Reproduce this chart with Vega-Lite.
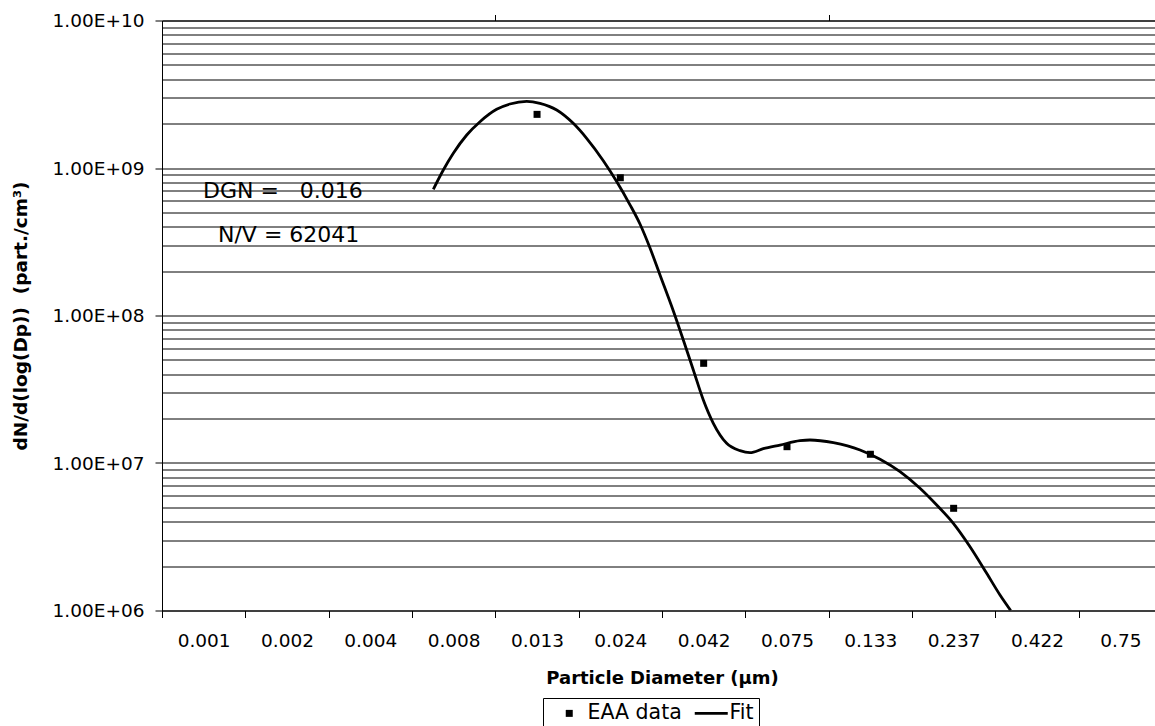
{
  "$schema": "https://vega.github.io/schema/vega-lite/v6.json",
  "width": 993,
  "height": 590,
  "autosize": {"type": "none"},
  "padding": {"left": 162, "top": 20.5, "right": 0, "bottom": 115.5},
  "background": "white",
  "config": {
    "view": {"stroke": null},
    "font": "DejaVu Sans",
    "axis": {
      "domainColor": "black",
      "tickColor": "black",
      "labelColor": "black",
      "titleColor": "black",
      "labelFont": "DejaVu Sans",
      "titleFont": "DejaVu Sans"
    },
    "legend": {"labelFont": "DejaVu Sans", "labelColor": "black"}
  },
  "datasets": {
    "eaa": [
      {"d": 0.01334, "n": 2.31e9},
      {"d": 0.02371, "n": 8.59e8},
      {"d": 0.04217, "n": 4.74e7},
      {"d": 0.07499, "n": 1.29e7},
      {"d": 0.1334, "n": 1.146e7},
      {"d": 0.2371, "n": 4.93e6}
    ],
    "fit": [
      {"d": 0.006516, "n": 7.17e8},
      {"d": 0.006982, "n": 9.69e8},
      {"d": 0.007481, "n": 1.258e9},
      {"d": 0.008207, "n": 1.674e9},
      {"d": 0.008995, "n": 2.06e9},
      {"d": 0.01009, "n": 2.5e9},
      {"d": 0.01106, "n": 2.716e9},
      {"d": 0.01242, "n": 2.833e9},
      {"d": 0.01361, "n": 2.746e9},
      {"d": 0.01528, "n": 2.474e9},
      {"d": 0.01713, "n": 2.009e9},
      {"d": 0.01879, "n": 1.59e9},
      {"d": 0.02108, "n": 1.121e9},
      {"d": 0.02312, "n": 8.1e8},
      {"d": 0.02535, "n": 5.63e8},
      {"d": 0.02716, "n": 4.172e8},
      {"d": 0.02911, "n": 2.868e8},
      {"d": 0.03119, "n": 1.882e8},
      {"d": 0.0342, "n": 1.073e8},
      {"d": 0.03664, "n": 6.82e7},
      {"d": 0.03926, "n": 4.27e7},
      {"d": 0.04207, "n": 2.674e7},
      {"d": 0.04508, "n": 1.859e7},
      {"d": 0.04943, "n": 1.36e7},
      {"d": 0.0542, "n": 1.212e7},
      {"d": 0.05808, "n": 1.174e7},
      {"d": 0.06366, "n": 1.25e7},
      {"d": 0.07145, "n": 1.324e7},
      {"d": 0.08204, "n": 1.416e7},
      {"d": 0.0879, "n": 1.432e7},
      {"d": 0.1033, "n": 1.373e7},
      {"d": 0.1242, "n": 1.225e7},
      {"d": 0.1426, "n": 1.06e7},
      {"d": 0.1637, "n": 8.73e6},
      {"d": 0.1879, "n": 6.74e6},
      {"d": 0.2109, "n": 5.19e6},
      {"d": 0.2366, "n": 3.9e6},
      {"d": 0.2655, "n": 2.707e6},
      {"d": 0.2979, "n": 1.788e6},
      {"d": 0.3266, "n": 1.274e6},
      {"d": 0.3516, "n": 1.0e6}
    ],
    "notes": [
      {"d": 0.001327, "n": 6.26e8, "label": "DGN =\u00a0\u00a0\u00a00.016"},
      {"d": 0.001472, "n": 3.15e8, "label": "N/V = 62041"}
    ]
  },
  "layer": [
    {
      "data": {"name": "eaa"},
      "mark": {"type": "point", "filled": true, "size": 400, "color": "black", "opacity": 1, "strokeWidth": 0},
      "encoding": {
        "x": {
          "field": "d",
          "type": "quantitative",
          "scale": {"type": "log", "domain": [0.001, 0.9528], "nice": false},
          "axis": {
            "orient": "bottom",
            "title": "Particle Diameter (µm)",
            "titleFontSize": 18,
            "titleFontWeight": "bold",
            "titleX": 500,
            "titleY": 73,
            "titleBaseline": "alphabetic",
            "titleAnchor": "middle",
            "titleAlign": "center",
            "values": [0.001, 0.0013335, 0.0017783, 0.0023714, 0.0031623, 0.004217, 0.0056234, 0.0074989, 0.01, 0.013335, 0.017783, 0.023714, 0.031623, 0.04217, 0.056234, 0.074989, 0.1, 0.13335, 0.17783, 0.23714, 0.31623, 0.4217, 0.56234, 0.74989],
            "labelExpr": "abs((log(datum.value)/LN10+3)*4 - round((log(datum.value)/LN10+3)*4)) < 0.01 ? '' : ['0.001','0.002','0.004','0.008','0.013','0.024','0.042','0.075','0.133','0.237','0.422','0.75'][floor((log(datum.value)/LN10+3)*4)]",
            "labelFontSize": 18.5,
            "labelPadding": 14,
            "labelOverlap": false,
            "labelFlush": false,
            "labelBound": false,
            "tickSize": 7,
            "tickWidth": 1,
            "tickOpacity": {"condition": {"test": "abs((log(datum.value)/LN10+3)*4 - round((log(datum.value)/LN10+3)*4)) < 0.01", "value": 1}, "value": 0},
            "grid": false,
            "domainWidth": 1
          }
        },
        "y": {
          "field": "n",
          "type": "quantitative",
          "scale": {"type": "log", "domain": [1000000, 10000000000], "nice": false},
          "axis": {
            "orient": "left",
            "title": "dN/d(log(Dp))\u00a0\u00a0(part./cm³)",
            "titleFontSize": 18.5,
            "titleFontWeight": "bold",
            "titlePadding": 22,
            "values": [1000000, 2000000, 3000000, 4000000, 5000000, 6000000, 7000000, 8000000, 9000000, 10000000, 20000000, 30000000, 40000000, 50000000, 60000000, 70000000, 80000000, 90000000, 100000000, 200000000, 300000000, 400000000, 500000000, 600000000, 700000000, 800000000, 900000000, 1000000000, 2000000000, 3000000000, 4000000000, 5000000000, 6000000000, 7000000000, 8000000000, 9000000000, 10000000000],
            "labelExpr": "abs(log(datum.value)/LN10 - round(log(datum.value)/LN10)) < 0.001 ? '1.00E+' + (round(log(datum.value)/LN10) < 10 ? '0' : '') + round(log(datum.value)/LN10) : ''",
            "labelFontSize": 18.5,
            "labelPadding": 11,
            "labelOverlap": false,
            "labelFlush": false,
            "labelBound": false,
            "tickSize": 7,
            "tickOpacity": {"condition": {"test": "abs(log(datum.value)/LN10 - round(log(datum.value)/LN10)) < 0.001", "value": 1}, "value": 0},
            "grid": true,
            "gridColor": "black",
            "gridWidth": 1,
            "gridOpacity": 1
          }
        },
        "shape": {
          "datum": "EAA data",
          "scale": {
            "domain": ["EAA data", "Fit"],
            "range": ["M-0.35,-0.35H0.35V0.35H-0.35Z", "M-1.65,-0.13H1.65V0.13H-1.65Z"]
          },
          "legend": {
            "title": null,
            "orient": "none",
            "direction": "horizontal",
            "legendX": 381,
            "legendY": 677.5,
            "symbolSize": 400,
            "symbolOffset": 11,
            "symbolFillColor": "black",
            "symbolStrokeWidth": 0,
            "symbolOpacity": 1,
            "labelFontSize": 20.5,
            "labelOffset": 8,
            "columnPadding": 8,
            "padding": 5,
            "strokeColor": "black",
            "fillColor": "white"
          }
        }
      }
    },
    {
      "data": {"name": "fit"},
      "mark": {"type": "line", "color": "black", "strokeWidth": 2.8, "interpolate": "monotone", "clip": true},
      "encoding": {
        "x": {
          "field": "d",
          "type": "quantitative",
          "axis": {
            "orient": "top",
            "values": [0.01, 0.1],
            "labels": false,
            "title": null,
            "tickSize": 6,
            "domain": true,
            "grid": false
          }
        },
        "y": {"field": "n", "type": "quantitative"}
      }
    },
    {
      "data": {"name": "notes"},
      "mark": {"type": "text", "align": "left", "baseline": "alphabetic", "fontSize": 22, "color": "black", "font": "DejaVu Sans"},
      "encoding": {
        "x": {"field": "d", "type": "quantitative", "axis": null},
        "y": {"field": "n", "type": "quantitative"},
        "text": {"field": "label"}
      }
    }
  ],
  "resolve": {"axis": {"x": "independent"}}
}
